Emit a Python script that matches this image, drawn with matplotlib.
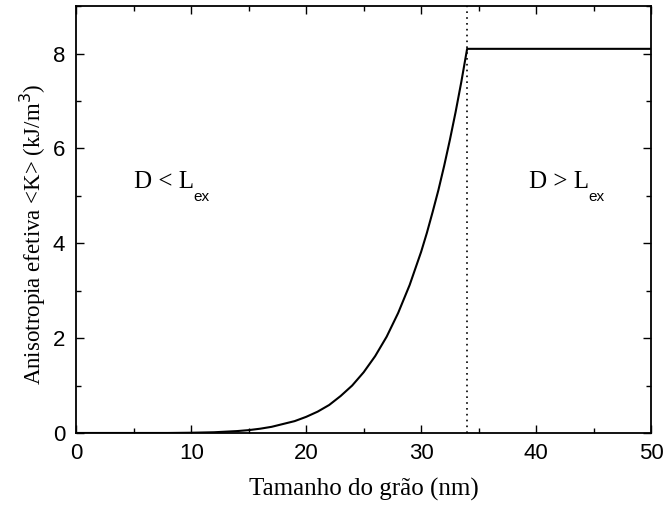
import matplotlib
matplotlib.use('Agg')
import matplotlib.pyplot as plt
from matplotlib.ticker import MultipleLocator

# ===============================
# Data
# ===============================
grain_size = [0, 4, 8, 10, 12, 14, 15, 16, 17, 18, 19, 20, 21, 22, 23, 24, 25, 26, 27, 28, 29,
              30, 30.5, 31, 31.5, 32, 32.5, 33, 33.5, 34.0, 50]
anisotropy = [0, 0, 0, 0.005, 0.015, 0.04, 0.06, 0.09, 0.13, 0.19, 0.25, 0.34, 0.45, 0.59, 0.78, 1.0,
              1.28, 1.62, 2.03, 2.53, 3.12, 3.82, 4.22, 4.66, 5.12, 5.63, 6.18, 6.77, 7.41, 8.1, 8.1]
critical_size = 34.0

serif = 'Liberation Serif'

fig = plt.figure(figsize=(6.63, 5.13), dpi=100)
ax = fig.add_axes([0.115, 0.156, 0.867, 0.832])

ax.plot(grain_size, anisotropy, color='black', linewidth=1.5)
ax.axvline(critical_size, color='black', linestyle=(0, (1, 2.5)), linewidth=1.2)

ax.set_xlim(0, 50)
ax.set_ylim(0, 9)
ax.xaxis.set_major_locator(MultipleLocator(10))
ax.xaxis.set_minor_locator(MultipleLocator(5))
ax.yaxis.set_major_locator(MultipleLocator(2))
ax.yaxis.set_minor_locator(MultipleLocator(1))
ax.tick_params(which='both', direction='in', top=True, right=True, width=1)
ax.tick_params(which='major', length=6, labelsize=16)
ax.tick_params(axis='x', which='major', pad=7)
ax.tick_params(axis='y', which='major', pad=8)
ax.tick_params(which='minor', length=3.5)
for lbl in ax.get_xticklabels() + ax.get_yticklabels():
    lbl.set_fontfamily('Liberation Sans')
for s in ax.spines.values():
    s.set_linewidth(1.3)

ax.set_xlabel('Tamanho do grão (nm)', fontfamily=serif, fontsize=18, labelpad=10)
ax.set_ylabel('Anisotropia efetiva <K> (kJ/m$^3$)', fontfamily=serif, fontsize=16.5)
ax.yaxis.set_label_coords(-0.05, 0.465)

# region labels, subscript placed by hand (sits low like the original)
for x0, txt in [(5.0, 'D < L'), (39.4, 'D > L')]:
    t = ax.text(x0, 5.3, txt, fontfamily=serif, fontsize=18, va='center')
    ax.annotate('ex', xy=(1, 0.1), xycoords=t, xytext=(-0.5, 0), textcoords='offset points',
                va='top', ha='left', fontfamily='Liberation Sans', fontsize=11)

plt.savefig('out.png', dpi=100)
